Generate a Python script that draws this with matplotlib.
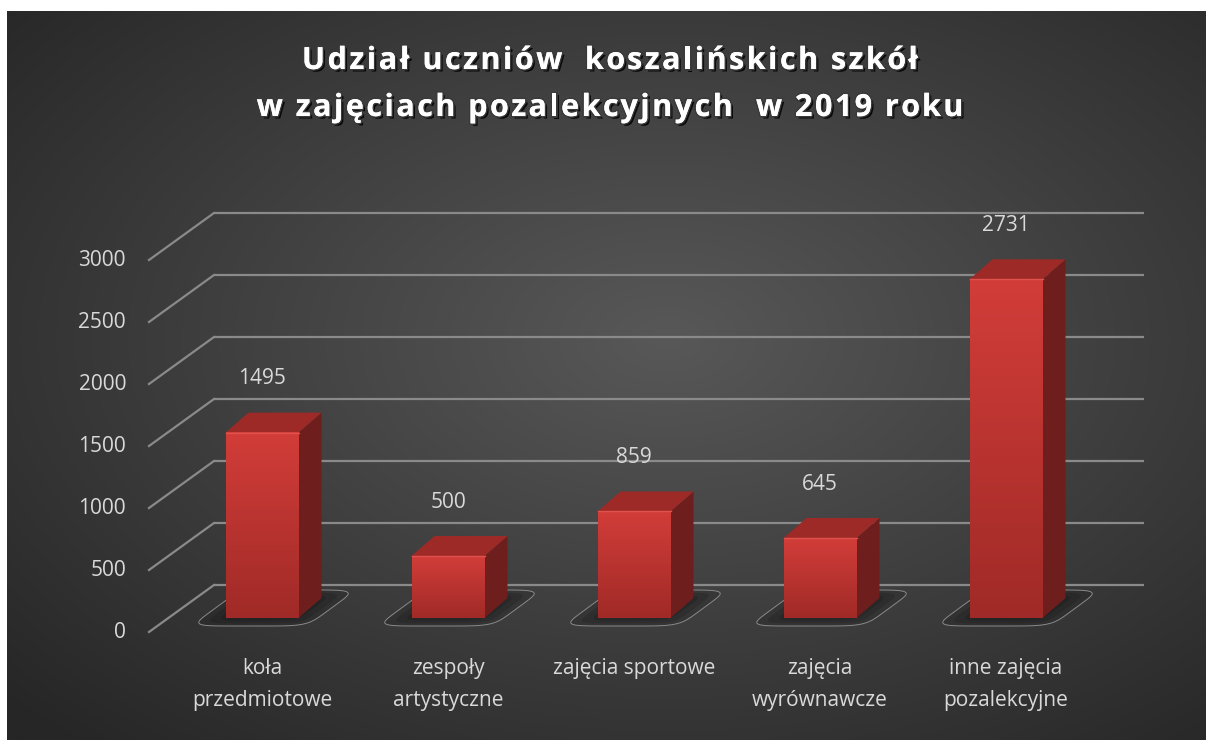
import numpy as np
import matplotlib
matplotlib.use("Agg")
import matplotlib.pyplot as plt
from matplotlib.patches import Polygon
import matplotlib.patheffects as pe

# data
categories = ["koła\nprzedmiotowe", "zespoły\nartystyczne", "zajęcia sportowe",
              "zajęcia\nwyrównawcze", "inne zajęcia\npozalekcyjne"]
values = [1495, 500, 859, 645, 2731]
yticks = [0, 500, 1000, 1500, 2000, 2500, 3000]
title1 = "Udział uczniów  koszalińskich szkół"
title2 = "w zajęciach pozalekcyjnych  w 2019 roku"

W, H = 1206, 740
fig = plt.figure(figsize=(W / 100, H / 100), dpi=100)
fig.patch.set_facecolor("white")

# radial gradient background
bg = fig.add_axes([7 / W, 0, 1 - 7 / W, 729 / H])
bg.set_zorder(-10)
gx, gy = np.meshgrid(np.linspace(0, 1, 400), np.linspace(0, 1, 250))
r = np.sqrt(((gx - 0.55) / 0.75) ** 2 + ((gy - 0.45) / 0.75) ** 2)
r = np.clip(r, 0, 1)
c_in, c_out = np.array([0x58, 0x58, 0x58]) / 255, np.array([0x26, 0x26, 0x26]) / 255
img = c_in[None, None, :] * (1 - r[..., None]) + c_out[None, None, :] * r[..., None]
bg.imshow(img, extent=[0, 1, 0, 1], aspect="auto", origin="upper")
bg.axis("off")

# main axes = front plane of the bars
x0px, x1px, ybot = 169, 1099, 618
ax = fig.add_axes([x0px / W, (H - ybot) / H, (x1px - x0px) / W, 372 / H])
ax.set_xlim(-0.5, 4.5)
ax.set_ylim(0, 3000)
ax.axis("off")
ax.patch.set_alpha(0)

sx = (x1px - x0px) / 5.0          # px per category unit
ky = 3000 / 372.0                 # value units per px

def px(dx, dy):
    return dx / sx, dy * ky

grid_col = "#8a8a8a"
txt_col = "#d9d9d9"
font = "Open Sans"

wall_dx, wall_dy = px(45, 33)
front_dx, front_dy = px(-20, -14)

for v in yticks:
    ax.plot([-0.5 + wall_dx, 4.5 + wall_dx], [v + wall_dy] * 2, color=grid_col,
            lw=1.6, clip_on=False, zorder=1, solid_capstyle="butt")
    ax.plot([-0.5 + front_dx, -0.5 + wall_dx], [v + front_dy, v + wall_dy],
            color=grid_col, lw=1.6, clip_on=False, zorder=1)
    ax.text(-0.5 + front_dx - 23 / sx, v + front_dy, str(v), ha="right", va="center",
            color=txt_col, fontsize=15, family=font)

bw = 73 / sx
bdx, bdy = px(23, 20)
grad = np.linspace(0, 1, 100)[:, None]
top_c = np.array([0xd2, 0x3d, 0x39]) / 255
bot_c = np.array([0xa0, 0x2a, 0x27]) / 255
front_img = top_c * (1 - grad[..., None]) + bot_c * grad[..., None]
front_img = np.repeat(front_img, 2, axis=1)

for i, v in enumerate(values):
    c = i
    # floor shadow: rounded parallelogram, darker towards the bar
    t = np.linspace(0, 2 * np.pi, 200)
    for scale, alpha in [(1.0, 0.18), (0.85, 0.18), (0.7, 0.2)]:
        n = 6
        u = 58 * scale * np.sign(np.cos(t)) * np.abs(np.cos(t)) ** (2 / n)
        d = 18 * scale * np.sign(np.sin(t)) * np.abs(np.sin(t)) ** (2 / n)
        sh_x = c + (11.5 + u + d * 1.36) / sx
        sh_y = (10 + d) * ky
        ax.add_patch(Polygon(np.column_stack([sh_x, sh_y]), closed=True,
                             facecolor="#101010", alpha=alpha, edgecolor="none",
                             zorder=2, clip_on=False))
        if scale == 1.0:
            ax.add_patch(Polygon(np.column_stack([sh_x, sh_y]), closed=True,
                                 facecolor="none", edgecolor="#8a8a8a", lw=0.7,
                                 zorder=2, clip_on=False))

    left, right = c - bw / 2, c + bw / 2
    side = [(right, 0), (right + bdx, bdy), (right + bdx, v + bdy), (right, v)]
    ax.add_patch(Polygon(side, closed=True, facecolor="#6e1e1c", edgecolor="none",
                         zorder=3, clip_on=False))
    top = [(left, v), (right, v), (right + bdx, v + bdy), (left + bdx, v + bdy)]
    ax.add_patch(Polygon(top, closed=True, facecolor="#9e2a27", edgecolor="none",
                         zorder=3, clip_on=False))
    ax.imshow(front_img, extent=[left, right, 0, v], aspect="auto", zorder=4,
              origin="upper", interpolation="bilinear", clip_on=False)
    ax.plot([left, right], [v, v], color="#e0524d", lw=1, zorder=5, clip_on=False)

    ax.text(c, v + 54 * ky, str(v), ha="center", va="center", color=txt_col,
            fontsize=15, family=font)
    ax.text(c, -40 * ky, categories[i], ha="center", va="top", color=txt_col,
            fontsize=15, family=font, linespacing=1.7)

ax.set_xlim(-0.5, 4.5)
ax.set_ylim(0, 3000)

# title with letter spacing
effects = [pe.withSimplePatchShadow(offset=(1.8, -1.8), shadow_rgbFace="black", alpha=0.85),
           pe.withStroke(linewidth=2.2, foreground="#3a3a3a"), pe.Normal()]
renderer = fig.canvas.get_renderer()
tprops = dict(color="white", fontsize=22, fontweight="bold", family=font)

def text_w(s):
    t = fig.text(0, 0, s + "|", **tprops)
    t2 = fig.text(0, 0, "|", **tprops)
    w = t.get_window_extent(renderer).width - t2.get_window_extent(renderer).width
    t.remove()
    t2.remove()
    return w

track = 2.5  # px between letters
for txt, ypx in [(title1, 61), (title2, 108)]:
    total = text_w(txt) + track * (len(txt) - 1)
    xstart = 610 - total / 2
    for k, ch in enumerate(txt):
        if ch == " ":
            continue
        xk = xstart + text_w(txt[:k]) + track * k
        fig.text(xk / W, 1 - ypx / H, ch, ha="left", va="center", path_effects=effects,
                 **tprops)

fig.savefig("out.png", dpi=100, facecolor=fig.get_facecolor())
